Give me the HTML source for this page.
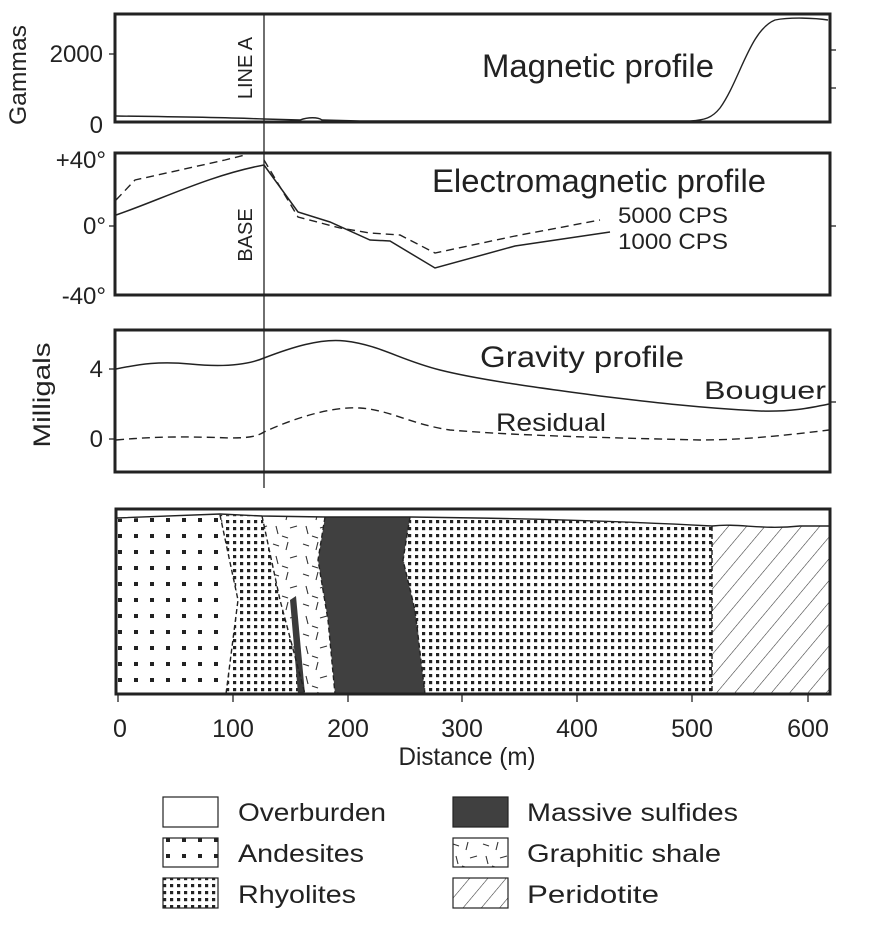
<!DOCTYPE html>
<html><head><meta charset="utf-8"><style>body{margin:0;background:#fff}svg{display:block}text{font-family:"Liberation Sans",sans-serif;fill:#222}</style></head><body>
<svg width="870" height="928" viewBox="0 0 870 928" xmlns="http://www.w3.org/2000/svg">
<defs>
<pattern id="and" width="16" height="16" patternUnits="userSpaceOnUse"><rect x="6" y="6" width="4" height="4" fill="#222"/></pattern>
<pattern id="rhy" width="7" height="7" patternUnits="userSpaceOnUse"><rect x="2" y="2" width="3.2" height="3.2" fill="#222"/></pattern>
<pattern id="per" width="14" height="14" patternUnits="userSpaceOnUse" patternTransform="rotate(40)"><line x1="0" y1="0" x2="0" y2="14" stroke="#333" stroke-width="1.1"/></pattern>
<pattern id="sh" width="30" height="30" patternUnits="userSpaceOnUse"><g stroke="#333" stroke-width="1.1"><line x1="3" y1="4" x2="9" y2="6"/><line x1="18" y1="2" x2="16" y2="10"/><line x1="6" y1="16" x2="8" y2="24"/><line x1="20" y1="18" x2="27" y2="16"/><line x1="12" y1="26" x2="18" y2="28"/></g></pattern>
</defs>
<g fill="none" stroke="#222">
<rect x="115" y="14" width="715" height="108" stroke-width="3"/>
<rect x="115" y="153" width="715" height="142" stroke-width="3"/>
<rect x="115" y="330" width="715" height="142" stroke-width="3"/>
<line x1="264" y1="14" x2="264" y2="488" stroke-width="1.3"/>
<g stroke-width="1.3"><line x1="830" y1="50" x2="836" y2="50"/><line x1="830" y1="88" x2="836" y2="88"/><line x1="830" y1="226" x2="836" y2="226"/><line x1="830" y1="402" x2="836" y2="402"/><line x1="109" y1="54" x2="115" y2="54"/><line x1="109" y1="226" x2="115" y2="226"/><line x1="109" y1="369" x2="115" y2="369"/><line x1="109" y1="439" x2="115" y2="439"/></g>
<path d="M116,116 C200,117 240,118 264,119 L300,120 C308,117 318,117 322,120 L360,121 L690,121 C705,120 712,118 720,108 C740,80 750,30 775,20 C790,17 815,18 828,20" stroke-width="1.4"/>
<path d="M116,215 C160,200 210,175 264,165 L298,212 L330,222 L370,240 L390,241 L435,268 L515,246 L610,232" stroke-width="1.5"/>
<path d="M116,200 L135,180 L180,170 L225,160 L245,155 M264,160 L298,217 L340,228 L370,233 L400,235 L435,253 L515,236 L600,220" stroke-width="1.4" stroke-dasharray="8,5"/>
<path d="M116,369 C140,364 160,361 190,364 C220,367 245,366 264,358 C290,348 320,338 345,341 C380,345 400,360 440,370 C480,380 540,388 600,396 C650,402 700,408 760,411 C790,412 810,408 829,404" stroke-width="1.5"/>
<path d="M116,440 C150,437 180,436 230,438 C250,438 258,436 264,432 C290,420 330,406 360,408 C390,410 410,424 450,430 C520,436 620,438 700,440 C740,440 780,436 829,430" stroke-width="1.4" stroke-dasharray="8,5"/>
</g>
<g>
<rect x="116" y="509" width="714" height="185" fill="#fff"/>
<path d="M117,519 L220,515 L226,694 L117,694Z" fill="url(#and)"/>
<path d="M220,515 L262,516 L280,600 L305,694 L275,694 L226,694 L238,600Z" fill="url(#rhy)"/>
<path d="M262,516 L325,517 L318,560 L328,620 L335,694 L305,694 L280,600Z" fill="url(#sh)"/>
<path d="M290,600 L296,596 L305,694 L298,694Z" fill="#3a3a3a"/>
<path d="M325,517 L410,517 L403,560 L415,610 L425,694 L335,694 L328,620 L318,560Z" fill="#404040"/>
<path d="M410,517 C500,518 600,520 712,526 L712,694 L425,694 L415,610 L403,560Z" fill="url(#rhy)"/>
<path d="M712,526 C740,523 760,530 800,526 L829,526 L829,694 L712,694Z" fill="url(#per)"/>
<g fill="none" stroke="#222" stroke-width="1.4">
<path d="M117,518 L220,514 L262,516 L325,517 L410,517 C500,518 600,520 712,526 C740,523 760,530 800,526 L829,526"/>
<path d="M220,515 L238,600 L226,694 M262,516 L280,600 L305,694 M325,517 L318,560 L328,620 L335,694 M410,517 L403,560 L415,610 L425,694 M712,526 L712,694" stroke-dasharray="5,3"/>
<rect x="116" y="509" width="714" height="185" stroke-width="3"/>
<g stroke-width="1.3"><line x1="118" y1="695" x2="118" y2="702"/><line x1="233" y1="695" x2="233" y2="702"/><line x1="348" y1="695" x2="348" y2="702"/><line x1="462" y1="695" x2="462" y2="702"/><line x1="577" y1="695" x2="577" y2="702"/><line x1="692" y1="695" x2="692" y2="702"/><line x1="808" y1="695" x2="808" y2="702"/></g>
</g>
</g>
<g font-size="24" text-anchor="end">
<text x="103" y="62">2000</text><text x="103" y="133">0</text>
<text x="106" y="168">+40°</text><text x="106" y="234">0°</text><text x="106" y="304">-40°</text>
<text x="103" y="377">4</text><text x="103" y="447">0</text>
</g>
<text transform="translate(26,75) rotate(-90)" font-size="24" text-anchor="middle" textLength="100" lengthAdjust="spacingAndGlyphs">Gammas</text>
<text transform="translate(50,395) rotate(-90)" font-size="24" text-anchor="middle" textLength="105" lengthAdjust="spacingAndGlyphs">Milligals</text>
<text transform="translate(252,68) rotate(-90)" font-size="20" text-anchor="middle">LINE A</text>
<text transform="translate(252,235) rotate(-90)" font-size="20" text-anchor="middle">BASE</text>
<text x="482" y="77" font-size="32" textLength="232" lengthAdjust="spacingAndGlyphs">Magnetic profile</text>
<text x="432" y="192" font-size="32" textLength="334" lengthAdjust="spacingAndGlyphs">Electromagnetic profile</text>
<text x="480" y="367" font-size="30" textLength="204" lengthAdjust="spacingAndGlyphs">Gravity profile</text>
<text x="704" y="399" font-size="25" textLength="122" lengthAdjust="spacingAndGlyphs">Bouguer</text>
<text x="496" y="431" font-size="25" textLength="110" lengthAdjust="spacingAndGlyphs">Residual</text>
<text x="618" y="223" font-size="22" textLength="110" lengthAdjust="spacingAndGlyphs">5000 CPS</text>
<text x="618" y="249" font-size="22" textLength="110" lengthAdjust="spacingAndGlyphs">1000 CPS</text>
<g font-size="25" text-anchor="middle">
<text x="120" y="737">0</text><text x="233" y="737">100</text><text x="348" y="737">200</text><text x="462" y="737">300</text><text x="577" y="737">400</text><text x="692" y="737">500</text><text x="808" y="737">600</text>
<text x="467" y="765" textLength="137" lengthAdjust="spacingAndGlyphs">Distance (m)</text>
</g>
<g stroke="#222" stroke-width="1.2">
<rect x="163" y="797" width="55" height="30" fill="#fff"/>
<rect x="163" y="838" width="55" height="29" fill="url(#and)"/>
<rect x="163" y="878" width="55" height="30" fill="url(#rhy)"/>
<rect x="453" y="797" width="55" height="30" fill="#404040"/>
<rect x="453" y="838" width="55" height="29" fill="url(#sh)"/>
<rect x="453" y="878" width="55" height="30" fill="url(#per)"/>
</g>
<g font-size="25">
<text x="238" y="821" textLength="148" lengthAdjust="spacingAndGlyphs">Overburden</text><text x="238" y="862" textLength="126" lengthAdjust="spacingAndGlyphs">Andesites</text><text x="238" y="903" textLength="118" lengthAdjust="spacingAndGlyphs">Rhyolites</text>
<text x="527" y="821" textLength="211" lengthAdjust="spacingAndGlyphs">Massive sulfides</text><text x="527" y="862" textLength="194" lengthAdjust="spacingAndGlyphs">Graphitic shale</text><text x="527" y="903" textLength="132" lengthAdjust="spacingAndGlyphs">Peridotite</text>
</g>
</svg>
</body></html>
